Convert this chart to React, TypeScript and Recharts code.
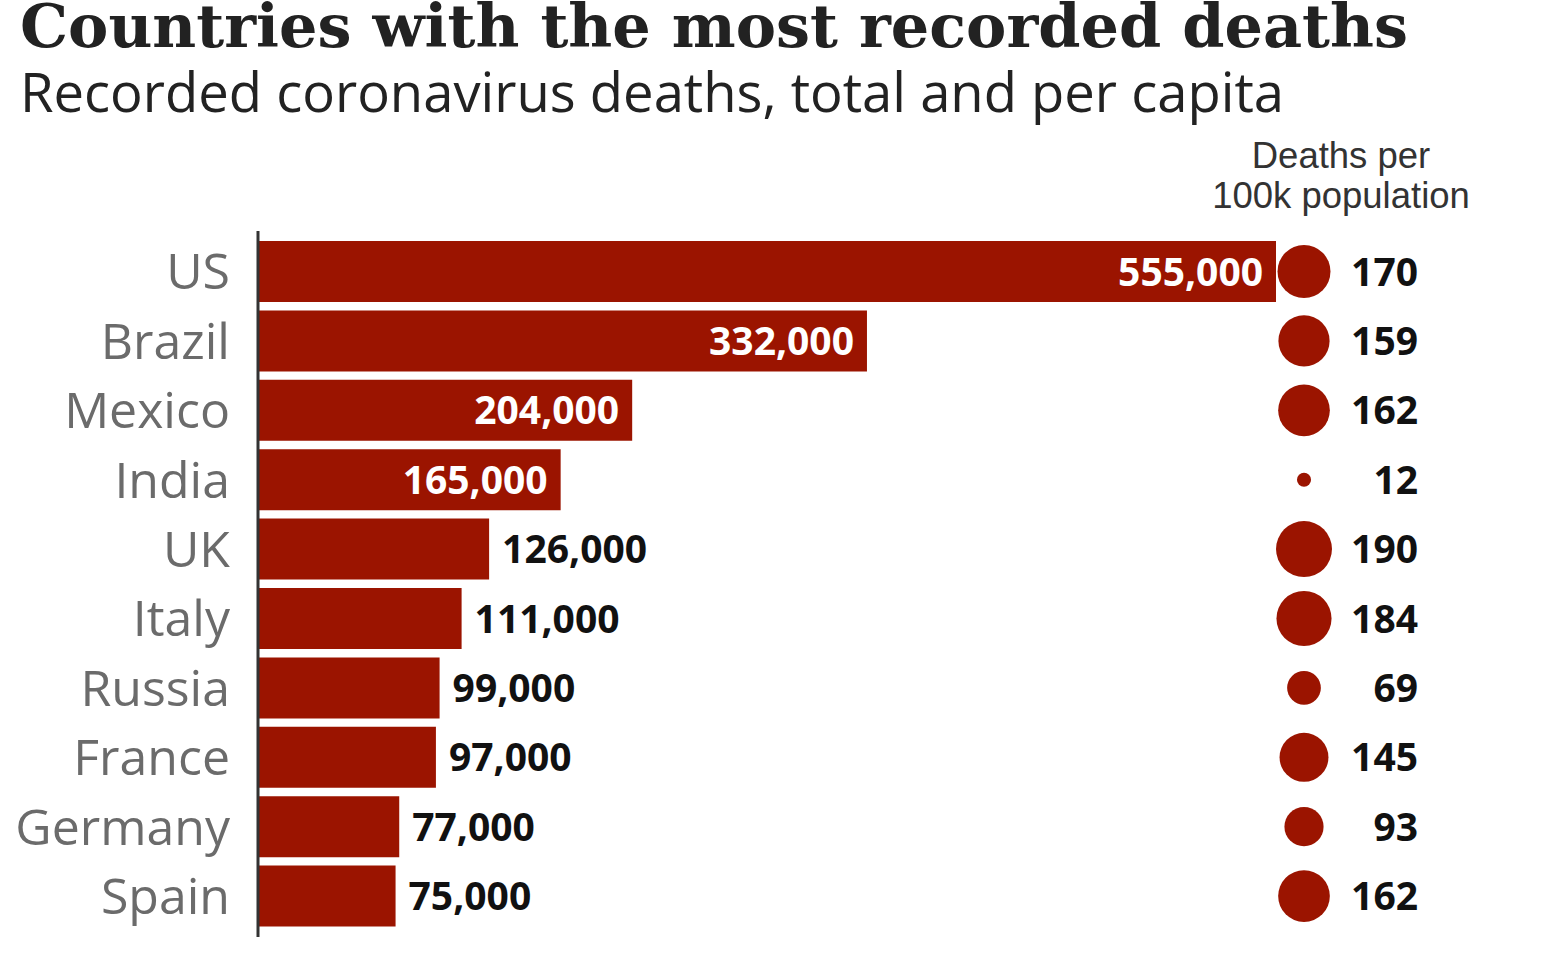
import { Bar, BarChart, LabelList, XAxis, YAxis } from "recharts";

const countries = ["US", "Brazil", "Mexico", "India", "UK", "Italy", "Russia", "France", "Germany", "Spain"];
const totalDeaths = [555000, 332000, 204000, 165000, 126000, 111000, 99000, 97000, 77000, 75000];
const deathsPer100k = [170, 159, 162, 12, 190, 184, 69, 145, 93, 162];

const data = countries.map((country, i) => ({
  country,
  total: totalDeaths[i],
  perCapita: deathsPer100k[i],
}));

const WIDTH = 1566;
const HEIGHT = 956;
const MARGIN = { top: 231, right: 290, bottom: 19, left: 0 };
const PLOT_RIGHT = WIDTH - MARGIN.right;
const RED = "#9b1400";
const NUM_FONT = "'Open Sans', sans-serif";

// bubble radius grows with the square root of the rate
const radius = (v: number) => 2.03 * Math.sqrt(v);

function TotalLabel(props: any) {
  const { x, y, width, height, value } = props;
  const inside = value >= 150000;
  return (
    <text
      x={inside ? x + width - 13 : x + width + 13}
      y={y + height / 2}
      dy="0.36em"
      textAnchor={inside ? "end" : "start"}
      fill={inside ? "#fff" : "#111"}
      fontFamily={NUM_FONT}
      fontWeight={700}
      fontSize={39}
    >
      {Number(value).toLocaleString("en-US")}
    </text>
  );
}

function PerCapitaLabel(props: any) {
  const { y, height, value } = props;
  const cy = y + height / 2;
  return (
    <g>
      <circle cx={PLOT_RIGHT + 28} cy={cy} r={radius(Number(value))} fill={RED} />
      <text
        x={PLOT_RIGHT + 142}
        y={cy}
        dy="0.36em"
        textAnchor="end"
        fill="#111"
        fontFamily={NUM_FONT}
        fontWeight={700}
        fontSize={39}
      >
        {value}
      </text>
    </g>
  );
}

export default function App() {
  return (
    <div style={{ position: "absolute", left: 0, top: 0, width: WIDTH, height: HEIGHT, background: "#fff" }}>
      <BarChart layout="vertical" width={WIDTH} height={HEIGHT} data={data} margin={MARGIN}>
        <XAxis type="number" hide domain={[0, 555000]} />
        <YAxis
          type="category"
          dataKey="country"
          width={258}
          interval={0}
          axisLine={{ stroke: "#333", strokeWidth: 3 }}
          tickLine={false}
          tickSize={0}
          tickMargin={28}
          padding={{ top: 6, bottom: 6 }}
          tick={{ fontSize: 50, fill: "#6b6b6b", fontFamily: "'Open Sans', sans-serif" }}
        />
        <Bar dataKey="total" fill={RED} barSize={61} isAnimationActive={false}>
          <LabelList dataKey="total" content={TotalLabel} />
          <LabelList dataKey="perCapita" content={PerCapitaLabel} />
        </Bar>
      </BarChart>
      <svg width={WIDTH} height={230} style={{ position: "absolute", left: 0, top: 0, pointerEvents: "none" }}>
        <text x={20} y={47} fontFamily="'DejaVu Serif', serif" fontWeight={700} fontSize={60} fill="#222" textLength={1388} lengthAdjust="spacingAndGlyphs">
          Countries with the most recorded deaths
        </text>
        <text x={20} y={112} fontFamily="'Open Sans', sans-serif" fontSize={54} fill="#222" textLength={1264} lengthAdjust="spacingAndGlyphs">
          Recorded coronavirus deaths, total and per capita
        </text>
        <text x={1341} textAnchor="middle" fontFamily="'Liberation Sans', Arial, sans-serif" fontSize={36.5} fill="#333">
          <tspan x={1341} y={168}>Deaths per</tspan>
          <tspan x={1341} y={208}>100k population</tspan>
        </text>
      </svg>
    </div>
  );
}
